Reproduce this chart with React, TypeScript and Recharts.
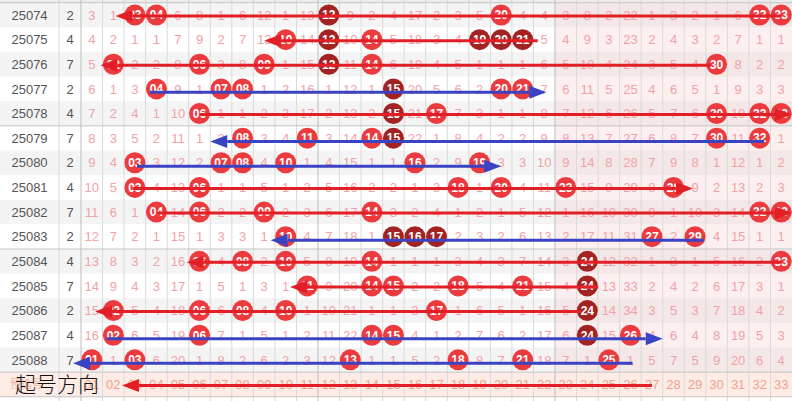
import React from 'react';
import { ScatterChart, Scatter, XAxis, YAxis, ReferenceArea, ReferenceLine } from 'recharts';

// ---------- data ----------
const issues = ['25074', '25075', '25076', '25077', '25078', '25079', '25080', '25081', '25082', '25083', '25084', '25085', '25086', '25087', '25088'];
const sideDigits = [2, 4, 7, 2, 4, 7, 2, 4, 7, 2, 4, 7, 2, 4, 7];

// miss counts for balls 01..33, 0 = drawn in that issue
const missRows: number[][] = [
  [3, 1, 0, 0, 6, 8, 1, 6, 12, 1, 13, 0, 9, 2, 4, 17, 2, 3, 5, 0, 4, 4, 3, 8, 2, 22, 1, 3, 2, 1, 6, 0, 0],
  [4, 2, 1, 1, 7, 9, 2, 7, 13, 0, 14, 0, 10, 0, 5, 18, 3, 4, 0, 0, 0, 5, 4, 9, 3, 23, 2, 4, 3, 2, 7, 1, 1],
  [5, 0, 2, 2, 8, 0, 3, 8, 0, 1, 15, 0, 11, 0, 6, 19, 4, 5, 1, 1, 1, 6, 5, 10, 4, 24, 3, 5, 4, 0, 8, 2, 2],
  [6, 1, 3, 0, 9, 1, 0, 0, 1, 2, 16, 1, 12, 1, 0, 20, 5, 6, 2, 0, 0, 7, 6, 11, 5, 25, 4, 6, 5, 1, 9, 3, 3],
  [7, 2, 4, 1, 10, 0, 1, 1, 2, 3, 17, 2, 13, 2, 0, 21, 0, 7, 3, 1, 1, 8, 7, 12, 6, 26, 5, 7, 6, 0, 10, 0, 0],
  [8, 3, 5, 2, 11, 1, 2, 0, 3, 4, 0, 3, 14, 0, 0, 22, 1, 8, 4, 2, 2, 9, 8, 13, 7, 27, 6, 8, 7, 0, 11, 0, 1],
  [9, 4, 0, 3, 12, 2, 0, 0, 4, 0, 1, 4, 15, 1, 1, 0, 2, 9, 0, 3, 3, 10, 9, 14, 8, 28, 7, 9, 8, 1, 12, 1, 2],
  [10, 5, 0, 4, 13, 0, 1, 1, 5, 1, 2, 5, 16, 2, 2, 1, 3, 0, 1, 0, 4, 11, 0, 15, 9, 29, 8, 0, 9, 2, 13, 2, 3],
  [11, 6, 1, 0, 14, 0, 2, 2, 0, 2, 3, 6, 17, 0, 3, 2, 4, 1, 2, 1, 5, 12, 1, 16, 10, 30, 9, 1, 10, 3, 14, 0, 0],
  [12, 7, 2, 1, 15, 1, 3, 3, 1, 0, 4, 7, 18, 1, 0, 0, 0, 2, 3, 2, 6, 13, 2, 17, 11, 31, 0, 2, 0, 4, 15, 1, 1],
  [13, 8, 3, 2, 16, 0, 4, 0, 2, 0, 5, 8, 19, 0, 1, 1, 1, 3, 4, 3, 7, 14, 3, 0, 12, 32, 1, 3, 1, 5, 16, 2, 0],
  [14, 9, 4, 3, 17, 1, 5, 1, 3, 1, 0, 9, 20, 0, 0, 2, 2, 0, 5, 4, 0, 15, 4, 0, 13, 33, 2, 4, 2, 6, 17, 3, 1],
  [15, 0, 5, 4, 18, 0, 6, 0, 4, 0, 1, 10, 21, 1, 1, 3, 0, 1, 6, 5, 1, 16, 5, 0, 14, 34, 3, 5, 3, 7, 18, 4, 2],
  [16, 0, 6, 5, 19, 0, 7, 1, 5, 1, 2, 11, 22, 0, 0, 4, 1, 2, 7, 6, 2, 17, 6, 0, 15, 0, 4, 6, 4, 8, 19, 5, 3],
  [0, 1, 0, 6, 20, 1, 8, 2, 6, 2, 3, 12, 0, 1, 1, 5, 2, 0, 8, 7, 0, 18, 7, 1, 0, 1, 5, 7, 5, 9, 20, 6, 4],
];

// balls shown in dark red (repeats / runs)
const darkBalls: number[][] = [
  [12], [12, 19, 20, 21], [12], [15], [15], [15], [], [], [], [15, 16, 17], [24], [24], [24], [24], [],
];

// direction arrows: one per issue row plus the footer row (row 15)
const arrowFrom = [33.0, 21.7, 29.7, 3.7, 6.0, 32.2, 3.1, 2.9, 4.0, 29.4, 33.0, 24.5, 23.7, 1.7, 26.1, 27.0];
const arrowTo = [2.1, 9.0, 1.4, 22.1, 33.5, 6.5, 20.0, 28.9, 33.5, 9.3, 5.4, 10.2, 1.15, 27.5, 0.13, 2.4];
const arrowKind = ['red', 'red', 'red', 'blue', 'red', 'blue', 'blue', 'red', 'red', 'blue', 'red', 'red', 'red', 'blue', 'blue', 'red'];

const footerLabels = ['01', '02', '03', '04', '05', '06', '07', '08', '09', '10', '11', '12', '13', '14', '15', '16', '17', '18', '19', '20', '21', '22', '23', '24', '25', '26', '27', '28', '29', '30', '31', '32', '33'];
const footerTitle = '起号方向';
const footerFaint = '预选号';

// ---------- layout / style ----------
const W = 792;
const H = 401;
const COLW = 21.545;
const XD: [number, number] = [-3.26, 33.5];
const YD: [number, number] = [-0.6096, 15.6714];
const ISSUE_X = -1.89;
const DIGIT_X = 0;
const FOOT_ROW = 15;
const ARROW_LEN = 17;
const ARROW_HALF = 6.5;
const FONT = '"Liberation Sans", Arial, sans-serif';
const RED_LINE = '#e21f26';
const BLUE_LINE = '#3a43c2';
const BALL = '#ec3b3e';
const BALL_DARK = '#a32222';

type Pt = { x: number; y: number; [k: string]: any };

const missPts: Pt[] = [];
const ballPts: Pt[] = [];
missRows.forEach((row, r) => {
  row.forEach((v, i) => {
    const c = i + 1;
    if (v === 0) {
      ballPts.push({ x: c, y: r, label: c < 10 ? '0' + c : String(c), dark: darkBalls[r].includes(c) });
    } else {
      missPts.push({ x: c, y: r, v });
    }
  });
});
const issuePts: Pt[] = issues.map((s, r) => ({ x: ISSUE_X, y: r, label: s }));
const digitPts: Pt[] = sideDigits.map((d, r) => ({ x: DIGIT_X, y: r, label: String(d) }));
const footerPts: Pt[] = footerLabels.map((s, i) => ({ x: i + 1, y: FOOT_ROW, label: s }));
const titlePts: Pt[] = [{ x: -3.26 + 15 / COLW, y: FOOT_ROW, label: footerTitle }];
const faintPts: Pt[] = [{ x: -3.26 + 10 / COLW, y: FOOT_ROW, label: footerFaint }];

const IssueText = (p: any) => (
  <text x={p.cx} y={p.cy} dy="0.36em" textAnchor="middle" fontSize={13} fill="#555" fontFamily={FONT}>{p.payload.label}</text>
);
const MissText = (p: any) => (
  <text x={p.cx} y={p.cy} dy="0.36em" textAnchor="middle" fontSize={13} fill="#f1a2a6" fontFamily={FONT}>{p.payload.v}</text>
);
const FooterText = (p: any) => (
  <text x={p.cx} y={p.cy} dy="0.36em" textAnchor="middle" fontSize={13} fill="#eea28c" fontFamily={FONT}>{p.payload.label}</text>
);
const Ball = (p: any) => (
  <g>
    <circle cx={p.cx} cy={p.cy} r={10.5} fill={p.payload.dark ? BALL_DARK : BALL} />
    <text x={p.cx} y={p.cy} dy="0.36em" textAnchor="middle" fontSize={12} fontWeight="bold" fill="#fff" fontFamily={FONT}>{p.payload.label}</text>
  </g>
);
const TitleText = (p: any) => (
  <text x={p.cx} y={p.cy} dy="0.35em" textAnchor="start" fontSize={21} fill="#111" fontFamily='"Noto Sans CJK SC", sans-serif' fontWeight={300}>{p.payload.label}</text>
);
const FaintText = (p: any) => (
  <text x={p.cx} y={p.cy} dy="0.35em" textAnchor="start" fontSize={11} fill="#f3b7a8" fontFamily='"Noto Sans CJK SC", sans-serif'>{p.payload.label}</text>
);
const ArrowShape = (p: any) => {
  if (p.payload.role !== 'head') return <g />;
  const d = p.payload.dir;
  const pts = `${p.cx},${p.cy - ARROW_HALF} ${p.cx + d * ARROW_LEN},${p.cy} ${p.cx},${p.cy + ARROW_HALF}`;
  return <polygon points={pts} fill={p.payload.color} />;
};

const arrows = arrowFrom.map((from, r) => {
  const to = arrowTo[r];
  const dir = to > from ? 1 : -1;
  const color = arrowKind[r] === 'blue' ? BLUE_LINE : RED_LINE;
  const off = arrowKind[r] === 'blue' ? 0.14 : 0.04;
  const end = to - (dir * ARROW_LEN) / COLW;
  return {
    color,
    data: [
      { x: from, y: r + off, role: 'start', dir, color },
      { x: end, y: r + off, role: 'head', dir, color },
    ],
  };
});

const colLines: number[] = [-0.52];
for (let c = 0; c <= 32; c++) colLines.push(c + 0.5);
const strongCols = [0.5, 11.5, 22.5];
const rowDividers = [-0.5, 4.5, 9.5, 14.5, 15.5];

export default function App() {
  return (
    <div style={{ position: 'absolute', left: 0, top: 0, width: W, height: H, background: '#fff' }}>
      <ScatterChart width={W} height={H} margin={{ top: 0, right: 0, bottom: 0, left: 0 }}>
        <XAxis type="number" dataKey="x" domain={XD} hide allowDataOverflow />
        <YAxis type="number" dataKey="y" domain={YD} reversed hide allowDataOverflow />

        <ReferenceArea x1={XD[0]} x2={XD[1]} y1={YD[0]} y2={-0.5} fill="#ececec" fillOpacity={1} stroke="none" ifOverflow="visible" />
        {issues.map((_, r) =>
          r % 2 === 0 ? (
            <ReferenceArea key={'bg' + r} x1={XD[0]} x2={XD[1]} y1={r - 0.5} y2={r + 0.5} fill="#f4f4f4" fillOpacity={1} stroke="none" ifOverflow="visible" />
          ) : null
        )}
        <ReferenceArea x1={22.5} x2={33.5} y1={-0.5} y2={14.5} fill="#f6c4c4" fillOpacity={0.28} stroke="none" ifOverflow="visible" />
        <ReferenceArea x1={XD[0]} x2={XD[1]} y1={14.5} y2={15.5} fill="#fdece6" fillOpacity={1} stroke="none" ifOverflow="visible" />

        {colLines.map((v) => (
          <ReferenceLine key={'c' + v} x={v} stroke={strongCols.includes(v) ? '#bdbdbd' : '#dadada'} strokeWidth={1} ifOverflow="visible" />
        ))}
        {rowDividers.map((v) => (
          <ReferenceLine key={'r' + v} y={v} stroke="#c4c4c4" strokeWidth={1} ifOverflow="visible" />
        ))}

        <Scatter data={issuePts} shape={IssueText} isAnimationActive={false} />
        <Scatter data={digitPts} shape={IssueText} isAnimationActive={false} />
        <Scatter data={missPts} shape={MissText} isAnimationActive={false} />
        <Scatter data={footerPts} shape={FooterText} isAnimationActive={false} />
        <Scatter data={faintPts} shape={FaintText} isAnimationActive={false} />
        <Scatter data={ballPts} shape={Ball} isAnimationActive={false} />

        {arrows.map((a, i) => (
          <Scatter
            key={'a' + i}
            data={a.data}
            shape={ArrowShape}
            line={{ stroke: a.color, strokeWidth: 3 }}
            lineType="joint"
            fill={a.color}
            isAnimationActive={false}
          />
        ))}

        <Scatter data={titlePts} shape={TitleText} isAnimationActive={false} />
      </ScatterChart>
    </div>
  );
}
